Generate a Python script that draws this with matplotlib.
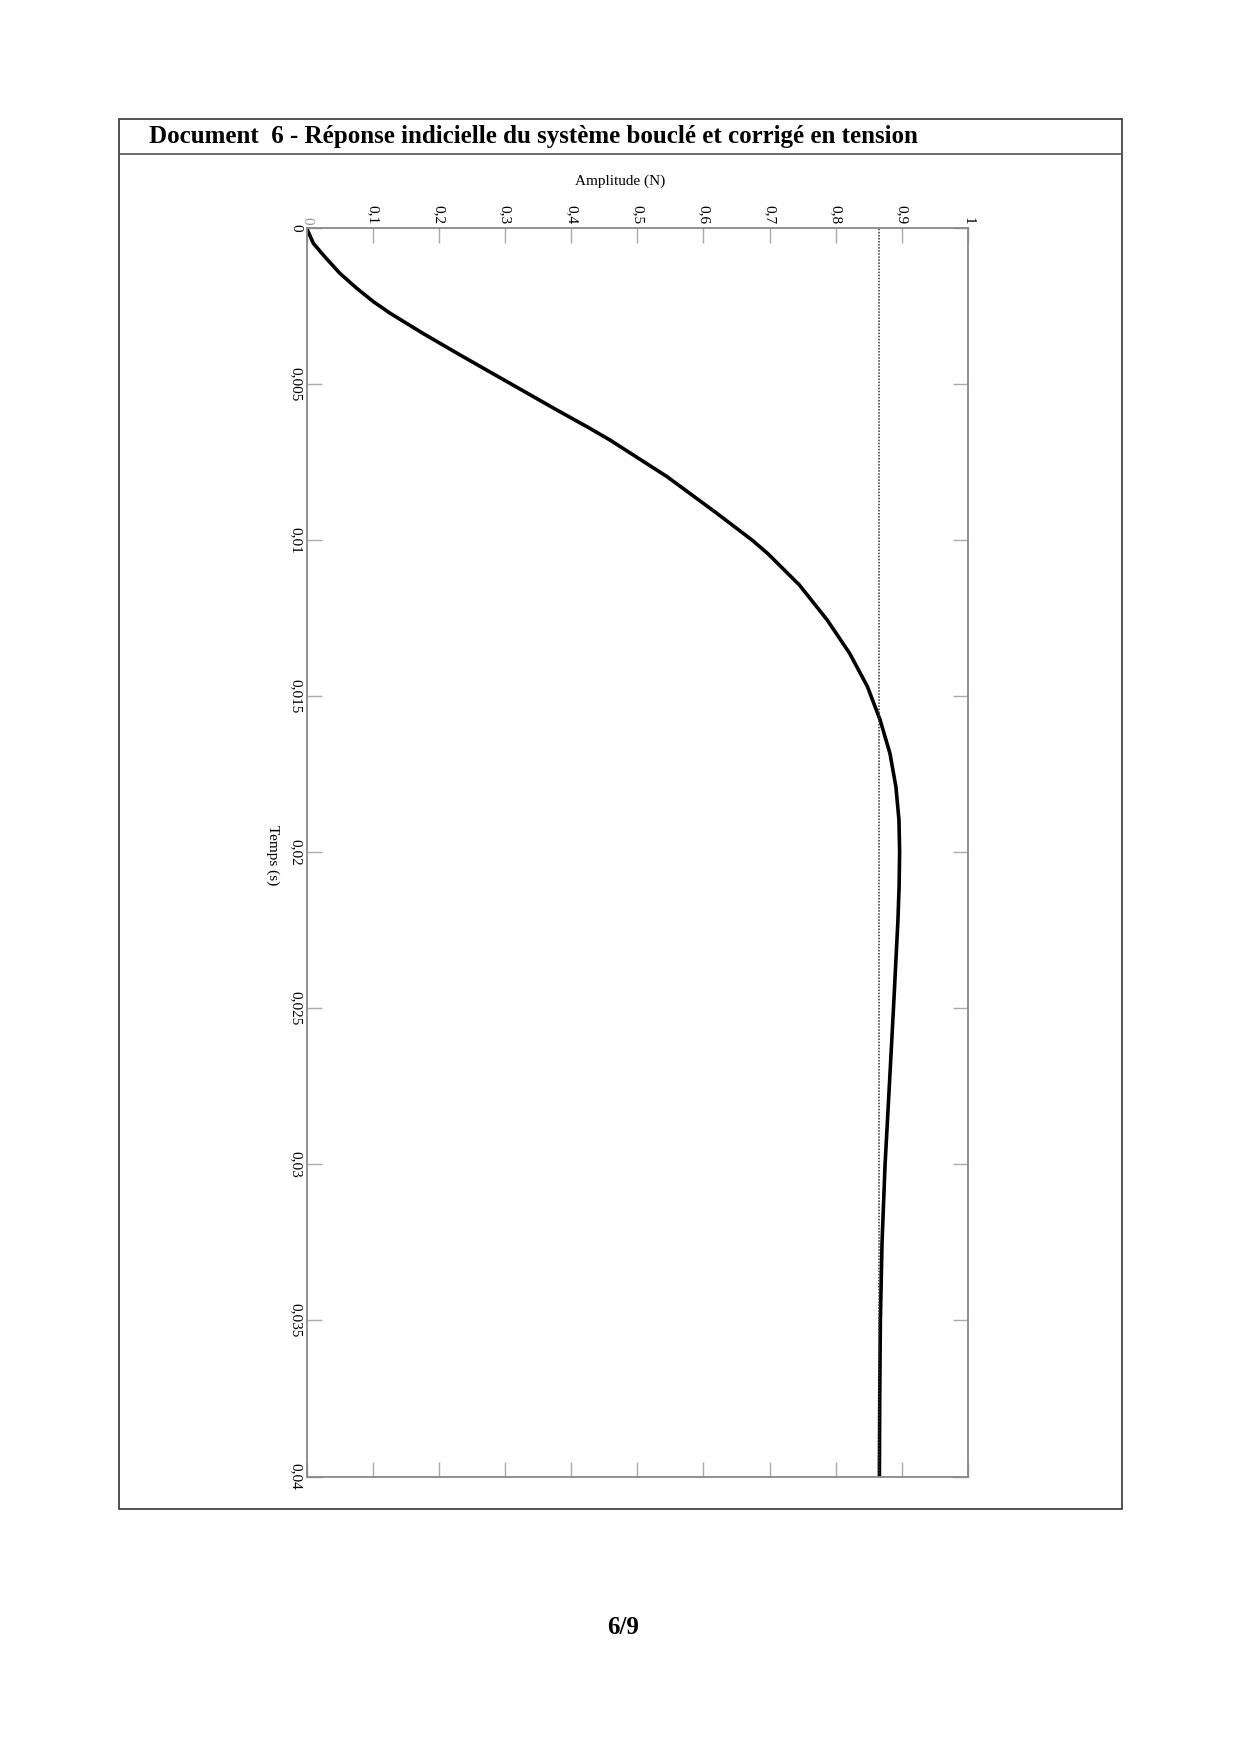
import matplotlib
matplotlib.use("Agg")
import matplotlib.pyplot as plt
from matplotlib.patches import Rectangle
from matplotlib.lines import Line2D

# step response (time in s, amplitude in N)
temps = [0, 0.00048, 0.000856, 0.00144, 0.00192, 0.00235, 0.00272, 0.00337,
         0.00406, 0.005, 0.00582, 0.00636, 0.00679, 0.00796, 0.00913, 0.01,
         0.01042, 0.01143, 0.01255, 0.01362, 0.01469, 0.01575, 0.01683, 0.0179,
         0.01896, 0.0200, 0.0211, 0.0222, 0.025, 0.0275, 0.03, 0.0325,
         0.035, 0.0375, 0.04]
amplitude = [0, 0.010, 0.025, 0.050, 0.0756, 0.1008, 0.126, 0.176,
             0.232, 0.31, 0.378, 0.424, 0.459, 0.545, 0.620, 0.674,
             0.697, 0.745, 0.787, 0.821, 0.848, 0.867, 0.882, 0.891,
             0.8956, 0.8966, 0.8958, 0.894, 0.8873, 0.881, 0.8746, 0.870,
             0.8675, 0.8665, 0.866]
valeur_finale = 0.866

temps_ticks = [0, 0.005, 0.01, 0.015, 0.02, 0.025, 0.03, 0.035, 0.04]
temps_labels = ["0", "0,005", "0,01", "0,015", "0,02", "0,025", "0,03", "0,035", "0,04"]
ampl_ticks = [0, 0.1, 0.2, 0.3, 0.4, 0.5, 0.6, 0.7, 0.8, 0.9, 1]
ampl_labels = ["0", "0,1", "0,2", "0,3", "0,4", "0,5", "0,6", "0,7", "0,8", "0,9", "1"]

titre = "Document  6 - Réponse indicielle du système bouclé et corrigé en tension"

plt.rcParams["font.family"] = ["Liberation Serif", "DejaVu Serif"]

W, H = 1240, 1754
fig = plt.figure(figsize=(W / 100, H / 100), dpi=100)

# page frame + title bar
fig.add_artist(Rectangle((118.5 / W, 1 - 1509 / H), (1121.5 - 118.5) / W, (1509 - 118.5) / H,
                         transform=fig.transFigure, fill=False, lw=1.2, ec="#333333"))
fig.add_artist(Line2D([118.5 / W, 1121.5 / W], [1 - 154 / H, 1 - 154 / H],
                      transform=fig.transFigure, lw=1.2, color="#555555"))
fig.text(149 / W, 1 - 136 / H, titre, fontsize=18, fontweight="bold", va="center")
fig.text(623 / W, 1 - 1627 / H, "6/9", fontsize=18, fontweight="bold", ha="center", va="center")

# plot is rotated: amplitude across, time downwards
ax = fig.add_axes([306.7 / W, 1 - 1476.5 / H, 661.3 / W, 1248.2 / H])
ax.plot(amplitude, temps, color="black", lw=2.6, solid_joinstyle="round")
ax.axvline(valeur_finale, color="#333333", lw=1.1, linestyle=(0, (1, 1)))
ax.set_xlim(0, 1)
ax.set_ylim(0.04, 0)

ax.xaxis.tick_top()
ax.set_xticks(ampl_ticks)
ax.set_xticklabels(ampl_labels, rotation=-90)
ax.set_yticks(temps_ticks)
ax.set_yticklabels(temps_labels, rotation=-90, va="center")
ax.tick_params(direction="in", length=11, width=1, color="#aaaaaa",
               top=True, bottom=True, left=True, right=True, labelsize=11, pad=3)
ax.get_xticklabels()[0].set_color("#999999")
for s in ax.spines.values():
    s.set_color("#888888")
    s.set_linewidth(1.3)

fig.text(620 / W, 1 - 181 / H, "Amplitude (N)", fontsize=11, ha="center", va="center")
fig.text(273 / W, 1 - 855 / H, "Temps (s)", fontsize=11, rotation=-90, ha="center", va="center")

fig.savefig("out.png", dpi=100)
